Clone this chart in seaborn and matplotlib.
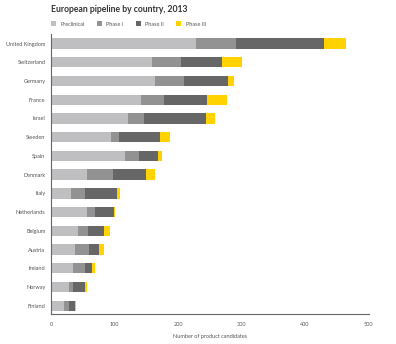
import numpy as np
import pandas as pd
import matplotlib
matplotlib.use("Agg")
import matplotlib.pyplot as plt
from matplotlib.patches import Patch
import seaborn as sns

countries = ["United Kingdom", "Switzerland", "Germany", "France", "Israel", "Sweden",
             "Spain", "Denmark", "Italy", "Netherlands", "Belgium", "Austria",
             "Ireland", "Norway", "Finland"]
preclinical = [229, 159, 164, 141, 122, 95, 117, 57, 31, 57, 43, 38, 34, 28, 20]
phase1 = [62, 46, 46, 37, 24, 12, 22, 40, 22, 12, 16, 22, 19, 6, 9]
phase2 = [139, 65, 69, 67, 98, 65, 29, 53, 51, 30, 25, 16, 11, 20, 8]
phase3 = [35, 30, 9, 32, 15, 16, 7, 14, 4, 2, 9, 8, 6, 2, 3]
phases = ["Preclinical", "Phase I", "Phase II", "Phase III"]
colors = ["#bfbfc1", "#929292", "#666666", "#ffd200"]
xticks = [0, 100, 200, 300, 400, 500]

sns.set_theme(style="white")
plt.rcParams["font.family"] = ["Lato", "DejaVu Sans"]

df = pd.DataFrame({"country": countries, "Preclinical": preclinical,
                   "Phase I": phase1, "Phase II": phase2, "Phase III": phase3})
cum = df[phases].cumsum(axis=1)
cum["country"] = df["country"]

fig = plt.figure(figsize=(3.96, 3.44), dpi=100)
ax = fig.add_axes([0.1288, 0.0872, 0.8018, 0.814])

for ph, col in reversed(list(zip(phases, colors))):
    sns.barplot(data=cum, x=ph, y="country", orient="h", color=col,
                width=0.55, ax=ax, order=countries, saturation=1, linewidth=0)

ax.set_xlim(0, 500)
ax.set_ylim(14.44, -0.51)
ax.set_xticks(xticks)
ax.set_xticklabels([str(t) for t in xticks])
ax.set_ylabel("")
ax.set_xlabel("Number of product candidates", fontsize=4.0, color="#555555", labelpad=5)
ax.tick_params(axis="both", length=0, labelsize=4.0, colors="#555555")
ax.tick_params(axis="y", pad=4)
ax.tick_params(axis="x", pad=6)
for s in ["top", "right"]:
    ax.spines[s].set_visible(False)
for s in ["left", "bottom"]:
    ax.spines[s].set_color("#666666")
    ax.spines[s].set_linewidth(0.8)

fig.text(51 / 396, 1 - 10 / 344, "European pipeline by country, 2013", fontsize=6.2,
         fontweight="bold", color="#333333", va="center", ha="left")

handles = [Patch(facecolor=c, edgecolor="none") for c in colors]
fig.legend(handles, phases, loc="center left", bbox_to_anchor=(51 / 396, 1 - 24 / 344),
           ncol=4, frameon=False, fontsize=4.0, handlelength=0.9, handleheight=0.9,
           handletextpad=0.8, columnspacing=2.2, labelcolor="#555555", borderaxespad=0,
           borderpad=0)

fig.savefig("out.png", dpi=100)
